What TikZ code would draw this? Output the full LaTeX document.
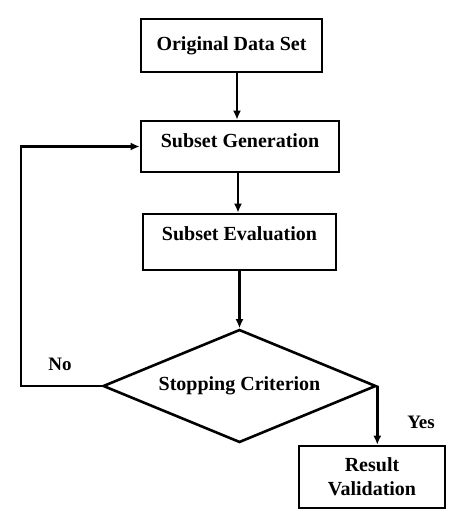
\documentclass[tikz,border=0pt]{standalone}
\usepackage{fontspec}
\setmainfont{Liberation Serif}
\usetikzlibrary{shapes.geometric,arrows.meta}
\begin{document}
\begin{tikzpicture}[x=1pt, y=-1pt, line width=2.4pt, >={Latex[length=9pt,width=8pt]},
            box/.style = {draw, rectangle, line width=2.6pt, inner sep=0pt, align=center, font=\fontsize{20}{24}\selectfont\bfseries},
            decision/.style = {draw, diamond, line width=2.6pt, inner sep=0pt, aspect=2.4, minimum width=273pt, minimum height=113pt, font=\fontsize{20}{24}\selectfont\bfseries},
            tag/.style = {font=\fontsize{19}{22}\selectfont\bfseries}
            ]
            \useasboundingbox (0,0) rectangle (451,520);

            \node[box, minimum width=181pt, minimum height=53pt] (orig) at (231.5, 45.5) {Original Data Set};
            \node[box, minimum width=198pt, minimum height=51pt, text depth=11pt] (gen) at (240, 146.5) {Subset Generation};
            \node[box, minimum width=193pt, minimum height=56pt, text depth=16pt] (eval) at (239.5, 242) {Subset Evaluation};
            \node[decision] (crit) at (239.5, 386) {Stopping Criterion};
            \node[box, minimum width=146pt, minimum height=62pt] (res) at (372, 477) {Result\\Validation};

            \node[tag] (no) at (60, 364) {No};
            \node[tag] (yes) at (421, 422) {Yes};
            \coordinate (back) at (21, 386);

            \draw[->] ([xshift=5.5pt]orig.south) to ([xshift=-3pt]gen.north);
            \draw[->] ([xshift=-2pt]gen.south) to ([xshift=-1.5pt]eval.north);
            \draw[->] (eval.south) to (crit.north);

            % loop back when the criterion fails
            \draw[->] (crit.west) -- (back) |- (gen.west);
            \draw[->] (crit.east) -- (crit.east |- res.north);

\end{tikzpicture}
\end{document}
